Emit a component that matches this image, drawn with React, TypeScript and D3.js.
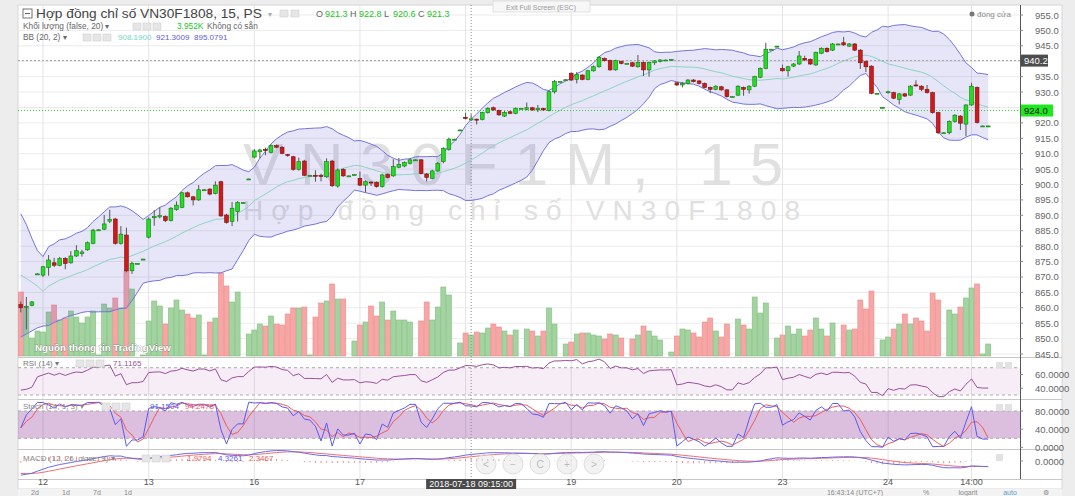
import React from "react";
import * as d3 from "d3";

// ---------- DATA ----------
const dayLabels = ["12", "13", "16", "17", "18", "19", "20", "23", "24", "14:00"];
const dayLabelIndex = [4, 23, 42, 61, 80, 99, 118, 137, 156, 171];
const priceTicks = [955, 950, 945, 940, 935, 930, 925, 920, 915, 910, 905, 900, 895, 890, 885, 880, 875, 870, 865, 860, 855, 850, 845];

const barOpen = [
  861.0, 860.3, 860.8, 871.0,
  870.6, 873.1, 874.6, 873.7, 876.0, 874.6, 876.8, 877.6, 878.8, 880.9, 885.2, 885.5, 888.1, 888.8, 880.9, 883.6, 872.0, 874.4, 875.8,
  882.9, 889.2, 889.5, 889.6, 888.3, 891.9, 892.6, 897.3, 896.0, 895.0, 898.3, 898.5, 897.1, 900.9, 890.1, 888.0, 891.2, 894.1, 901.8,
  908.9, 910.6, 911.4, 910.4, 912.6, 912.1, 909.7, 909.0, 904.9, 907.6, 903.0, 903.0, 902.9, 902.5, 907.6, 899.5, 904.9, 902.8, 903.2,
  902.0, 899.8, 900.8, 900.7, 899.3, 903.3, 902.8, 905.6, 906.0, 906.9, 908.0, 908.0, 903.4, 902.0, 904.4, 907.4, 911.4, 914.7, 917.7,
  921.8, 921.3, 921.2, 921.1, 923.3, 924.9, 924.0, 922.2, 923.6, 923.1, 924.7, 924.4, 924.9, 924.2, 924.6, 924.0, 930.1, 933.4, 934.0,
  936.1, 934.1, 935.5, 934.1, 936.9, 938.2, 940.9, 940.2, 937.2, 939.9, 939.3, 939.5, 938.2, 939.6, 937.2, 939.5, 939.9, 940.4, 940.6,
  933.0, 932.3, 932.8, 933.9, 933.6, 932.8, 931.5, 930.9, 931.7, 930.7, 928.5, 929.0, 931.5, 930.7, 931.9, 934.8, 937.7, 943.9, 944.9,
  937.7, 936.9, 938.4, 939.1, 940.9, 940.6, 938.8, 942.6, 944.2, 943.6, 945.6, 946.0, 944.9, 945.6, 943.6, 939.9, 938.4, 929.6, 925.0,
  929.8, 929.8, 927.6, 929.4, 929.0, 932.3, 931.9, 930.9, 929.8, 923.3, 916.8, 916.8, 920.4, 922.2, 919.6, 925.8, 931.5, 919.0, 919.0,
];
const barHigh = [
  862.0, 863.5, 862.2, 871.2,
  873.6, 877.1, 876.2, 876.5, 876.4, 878.4, 880.3, 878.8, 881.5, 885.6, 885.5, 890.1, 891.8, 889.2, 886.5, 886.0, 875.0, 874.5, 875.9,
  889.3, 891.7, 892.6, 890.0, 892.7, 894.5, 897.6, 897.7, 896.3, 899.8, 898.4, 898.8, 901.0, 901.2, 890.5, 894.3, 894.6, 894.2, 901.9,
  911.5, 911.6, 912.0, 913.0, 913.0, 912.5, 909.9, 909.3, 908.7, 908.0, 903.1, 904.6, 903.5, 908.5, 908.0, 905.2, 905.3, 902.9, 903.3,
  904.2, 901.3, 901.0, 901.0, 903.5, 903.6, 908.2, 908.6, 907.5, 908.5, 908.1, 908.3, 903.7, 904.8, 907.3, 912.1, 915.2, 914.8, 917.8,
  923.3, 922.8, 921.4, 923.6, 925.1, 925.3, 924.3, 923.8, 923.9, 925.0, 924.8, 926.6, 925.2, 925.8, 924.9, 930.5, 933.9, 933.5, 934.1,
  936.4, 936.5, 935.8, 937.2, 938.6, 941.7, 941.2, 940.5, 940.5, 940.2, 939.4, 939.8, 942.0, 939.9, 939.9, 940.4, 940.7, 940.5, 940.7,
  933.3, 933.2, 934.2, 934.2, 933.9, 933.1, 931.8, 932.2, 932.0, 931.0, 928.6, 932.2, 931.8, 932.2, 935.3, 938.0, 946.0, 944.0, 945.0,
  938.9, 938.5, 939.4, 943.3, 941.8, 940.9, 943.1, 944.5, 944.5, 945.9, 945.7, 947.9, 945.9, 945.9, 943.9, 940.2, 938.7, 929.7, 925.1,
  930.4, 930.1, 929.7, 929.7, 932.2, 933.8, 932.2, 932.3, 930.1, 923.6, 916.9, 920.8, 922.8, 922.5, 926.1, 933.0, 931.8, 919.1, 919.1,
];
const barLow = [
  858.5, 853.0, 860.5, 870.8,
  870.0, 870.4, 873.2, 873.5, 872.5, 874.3, 876.5, 876.6, 878.5, 880.6, 885.1, 885.2, 887.5, 880.5, 880.5, 871.5, 871.0, 874.3, 875.7,
  882.5, 886.6, 889.0, 887.8, 888.0, 891.5, 892.3, 895.8, 893.2, 894.7, 898.2, 896.5, 896.8, 889.5, 887.3, 886.5, 888.0, 894.0, 901.7,
  908.5, 908.5, 909.5, 910.1, 911.8, 909.8, 909.0, 904.5, 904.5, 902.7, 902.9, 900.9, 901.0, 902.2, 899.2, 899.0, 902.5, 902.7, 903.1,
  899.5, 897.4, 899.5, 899.0, 899.0, 902.0, 902.5, 905.3, 905.6, 906.5, 907.9, 903.3, 901.0, 901.7, 904.1, 906.9, 911.0, 914.6, 917.6,
  921.1, 920.6, 919.5, 920.8, 923.0, 923.9, 922.3, 921.9, 922.8, 922.8, 924.6, 924.1, 923.9, 923.5, 923.9, 923.7, 929.5, 933.3, 933.9,
  933.6, 932.8, 933.8, 933.8, 936.6, 937.9, 939.9, 936.9, 936.9, 939.0, 939.2, 938.1, 937.9, 935.2, 935.0, 938.8, 939.6, 940.3, 940.5,
  932.0, 931.5, 932.5, 933.1, 932.5, 931.2, 929.6, 930.6, 930.4, 928.2, 928.4, 928.7, 928.8, 929.5, 931.6, 934.5, 937.4, 943.8, 944.8,
  936.6, 935.0, 938.1, 938.8, 940.1, 938.8, 938.5, 942.3, 942.8, 943.3, 945.5, 945.0, 944.6, 943.3, 937.5, 936.5, 929.3, 929.5, 924.9,
  929.5, 927.7, 926.0, 928.4, 928.7, 931.8, 930.3, 929.5, 923.0, 916.3, 916.7, 916.3, 920.1, 917.7, 915.7, 925.5, 919.8, 918.9, 918.9,
];
const barClose = [
  860.0, 860.5, 861.9, 871.0,
  873.3, 875.5, 873.8, 876.0, 874.4, 876.8, 878.5, 878.1, 881.1, 885.2, 885.3, 887.2, 888.7, 880.9, 883.9, 872.0, 874.4, 874.4, 875.8,
  888.8, 889.6, 889.9, 888.3, 892.3, 893.3, 897.3, 896.0, 895.0, 898.3, 898.3, 896.9, 899.8, 889.8, 887.7, 892.3, 894.1, 894.1, 901.8,
  910.9, 911.2, 911.0, 912.6, 912.1, 910.1, 909.4, 904.9, 907.4, 903.0, 903.0, 902.8, 902.6, 907.4, 899.6, 904.7, 902.8, 902.8, 903.2,
  899.8, 900.9, 900.5, 899.3, 903.1, 902.3, 905.8, 906.5, 907.1, 908.0, 908.0, 903.6, 902.3, 904.4, 906.9, 911.7, 914.7, 914.7, 917.7,
  921.4, 921.3, 920.9, 923.3, 924.7, 924.2, 922.6, 923.4, 923.1, 924.7, 924.7, 924.9, 924.2, 924.6, 924.2, 930.1, 933.4, 933.4, 934.0,
  933.9, 935.7, 934.1, 936.9, 938.2, 941.3, 940.2, 937.2, 940.2, 939.3, 939.3, 938.4, 939.6, 937.2, 939.6, 940.1, 940.4, 940.4, 940.6,
  932.3, 932.8, 933.9, 933.4, 932.8, 931.5, 930.9, 931.9, 930.7, 928.5, 928.5, 931.9, 930.9, 931.9, 935.0, 937.7, 943.9, 943.9, 944.9,
  936.9, 938.2, 939.1, 941.7, 940.4, 939.1, 942.8, 944.2, 943.1, 945.6, 945.6, 945.3, 945.6, 943.6, 939.5, 938.2, 929.6, 929.6, 925.0,
  930.1, 928.0, 929.4, 928.7, 931.9, 932.1, 930.9, 929.8, 923.3, 916.8, 916.8, 920.4, 922.5, 919.9, 925.8, 931.9, 920.1, 919.0, 919.0,
];
const barVolume = [
  64, 48, 18, 25,
  24, 44, 51, 36, 38, 45, 39, 33, 39, 45, 1, 52, 48, 58, 48, 85, 67, 0, 1,
  35, 55, 50, 32, 48, 56, 46, 42, 38, 41, 1, 34, 38, 83, 70, 54, 64, 0, 22,
  26, 32, 30, 40, 32, 31, 42, 48, 48, 49, 1, 39, 53, 55, 72, 57, 57, 0, 15,
  31, 34, 50, 40, 54, 36, 45, 36, 36, 34, 0, 35, 54, 36, 49, 69, 61, 0, 13,
  23, 21, 24, 23, 28, 32, 29, 25, 21, 26, 0, 27, 25, 20, 25, 48, 32, 0, 12,
  14, 22, 23, 23, 21, 20, 17, 22, 21, 18, 0, 17, 21, 30, 25, 20, 16, 0, 4,
  20, 27, 26, 23, 19, 34, 38, 25, 19, 32, 0, 37, 31, 27, 59, 43, 53, 0, 18,
  21, 30, 22, 27, 20, 26, 38, 27, 20, 33, 0, 31, 26, 27, 56, 47, 65, 0, 16,
  19, 27, 32, 42, 32, 38, 35, 25, 63, 56, 0, 46, 42, 49, 58, 68, 72, 2, 12,
];
// Bollinger values read at the left edge (before 20 bars of history exist)
const bbHeadUpper = [890.5, 887.0, 882.5, 878.5];
const bbHeadMid = [870.6, 869.5, 868.3, 867.0];
const bbHeadLower = [850.5, 851.5, 852.5, 853.5];
// indicator starting states read from the left edge of the lower panes
const rsiSeed = { gain: 0.8, loss: 1.35 };
const macdSeed = { fast: 862.0, slow: 872.0, signal: -8.0 };

const crosshairIndex = 81;
const crosshairText = "2018-07-18 09:15:00";
const lastPrice = 924.0;
const prevClose = 940.2;
const ohlcLabels = ["O", "H", "L", "C"];
const ohlcValues = ["921.3", "922.8", "920.6", "921.3"];
const bbLegendValues = ["908.1900", "921.3009", "895.0791"];

const FONT = "'Liberation Sans', Arial, sans-serif";
const UP = "#22dd22";
const UP_DARK = "#137a13";
const DN = "#d01a1a";
const DN_DARK = "#7a1010";

export default function App() {
  const n = barClose.length;
  const L = 18, R = 1020;
  const x = d3.scaleLinear().domain([0, n - 1]).range([20.8, 988.2]);
  const y = d3.scaleLinear().domain([845, 955]).range([354, 15]);
  const yVol = d3.scaleLinear().domain([0, 100]).range([356, 256]);
  const yRsi = d3.scaleLinear().domain([30, 70]).range([395, 367.7]);
  const ySto = d3.scaleLinear().domain([20, 80]).range([438.3, 411]);
  const yMacd = d3.scaleLinear().domain([-10, 10]).range([476, 446]);

  // Bollinger (20, 2)
  const bb = barClose.map((_, i) => {
    if (i < bbHeadMid.length) return { mid: bbHeadMid[i], up: bbHeadUpper[i], lo: bbHeadLower[i] };
    const w = barClose.slice(Math.max(0, i - 19), i + 1);
    const m = d3.mean(w) as number;
    const sd = Math.sqrt(d3.mean(w, (v) => (v - m) * (v - m)) as number);
    return { mid: m, up: m + 2 * sd, lo: m - 2 * sd };
  });

  // RSI 14
  let ag = rsiSeed.gain, al = rsiSeed.loss;
  const rsi = barClose.map((c, i) => {
    if (i > 0) {
      const ch = c - barClose[i - 1];
      ag = (ag * 13 + Math.max(ch, 0)) / 14;
      al = (al * 13 + Math.max(-ch, 0)) / 14;
    }
    return 100 - 100 / (1 + ag / al);
  });

  // Stoch 14,1,3
  const kLine = barClose.map((c, i) => {
    const lo = d3.min(barLow.slice(Math.max(0, i - 13), i + 1)) as number;
    const hi = d3.max(barHigh.slice(Math.max(0, i - 13), i + 1)) as number;
    return hi === lo ? 50 : (100 * (c - lo)) / (hi - lo);
  });
  const dLine = kLine.map((_, i) => d3.mean(kLine.slice(Math.max(0, i - 2), i + 1)) as number);

  // MACD 12,26,9
  let e12 = macdSeed.fast, e26 = macdSeed.slow, sig = macdSeed.signal;
  const macd: number[] = [], signal: number[] = [];
  barClose.forEach((c) => {
    e12 += (2 / 13) * (c - e12);
    e26 += (2 / 27) * (c - e26);
    const m = e12 - e26;
    sig += (2 / 10) * (m - sig);
    macd.push(m);
    signal.push(sig);
  });

  const idx = d3.range(n);
  const lineOf = (arr: number[], sc: d3.ScaleLinear<number, number>) =>
    d3.line<number>().x((i) => x(i)).y((i) => sc(arr[i]))(idx) as string;
  const bandArea = d3.area<number>().x((i) => x(i)).y0((i) => y(bb[i].lo)).y1((i) => y(bb[i].up))(idx) as string;
  const bbUp = d3.line<number>().x((i) => x(i)).y((i) => y(bb[i].up))(idx) as string;
  const bbLo = d3.line<number>().x((i) => x(i)).y((i) => y(bb[i].lo))(idx) as string;
  const bbMid = d3.line<number>().x((i) => x(i)).y((i) => y(bb[i].mid))(idx) as string;

  const bw = 3.8;
  const vw = 5.0;

  const smallBox = (bx: number, by: number, k: string) => (
    <rect key={k} x={bx} y={by} width={8} height={7} fill="#e6e6e6" stroke="#d0d0d0" strokeWidth={0.6} />
  );

  const rightLabel = (v: string, yy: number, k: string) => (
    <g key={k}>
      <line x1={R} x2={R + 3} y1={yy} y2={yy} stroke="#888" />
      <text x={R + 15} y={yy + 3.5} fontSize={9.5} fill="#666" fontFamily={FONT}>{v}</text>
    </g>
  );
  const hiddenPrice = (p: number) => Math.abs(y(p) - y(prevClose)) < 7 || Math.abs(y(p) - y(lastPrice)) < 7;
  const crossX = x(crosshairIndex);

  return (
    <svg width={1075} height={496} style={{ position: "absolute", left: 0, top: 0, background: "#f0f0f0" }} fontFamily={FONT}>
      {/* backgrounds */}
      <rect x={0} y={0} width={1075} height={496} fill="#ededed" />
      <rect x={L} y={5} width={1062 - L} height={484} fill="#ffffff" />
      <rect x={L} y={5} width={1062 - L} height={484} fill="none" stroke="#d6d6d6" />

      {/* horizontal grid of main pane */}
      {priceTicks.map((p) => (
        <line key={"g" + p} x1={L} x2={R} y1={y(p)} y2={y(p)} stroke="#ececec" />
      ))}
      {/* vertical grid (day separators) */}
      {dayLabelIndex.map((di, k) => (
        <line key={"v" + k} x1={x(di)} x2={x(di)} y1={5} y2={479} stroke="#e4e4e4" />
      ))}

      {/* watermark */}
      <text x={243} y={185} fontSize={60} fill="#e0e0e0" textLength={540} lengthAdjust="spacing">VN30F1M, 15</text>
      <text x={243} y={220} fontSize={28} fill="#e0e0e0" textLength={557} lengthAdjust="spacing">Hợp đồng chỉ số VN30F1808</text>

      {/* volume */}
      {idx.map((i) => {
        const up = barClose[i] >= barOpen[i];
        if (barVolume[i] <= 0) return null;
        return (
          <rect key={"vol" + i} x={x(i) - vw / 2} y={yVol(barVolume[i])} width={vw} height={yVol(0) - yVol(barVolume[i])}
            fill={up ? "#a3d3a0" : "#f7a6a6"} stroke={up ? "#7fbf7c" : "#ee8a8a"} strokeWidth={0.6} />
        );
      })}

      {/* Bollinger bands */}
      <path d={bandArea} fill="rgba(90,90,210,0.15)" />
      <path d={bbMid} fill="none" stroke="#8fd3c3" strokeWidth={1} />
      <path d={bbUp} fill="none" stroke="#7474e0" strokeWidth={1} />
      <path d={bbLo} fill="none" stroke="#7474e0" strokeWidth={1} />

      {/* price lines */}
      <line x1={L} x2={R} y1={y(prevClose)} y2={y(prevClose)} stroke="#a0a0a0" strokeDasharray="2,2" />
      <line x1={L} x2={R} y1={y(lastPrice)} y2={y(lastPrice)} stroke="#33cc33" strokeDasharray="1,2" />

      {/* candles */}
      {idx.map((i) => {
        const up = barClose[i] >= barOpen[i];
        const top = y(Math.max(barOpen[i], barClose[i]));
        const bot = y(Math.min(barOpen[i], barClose[i]));
        const h = Math.max(1, bot - top);
        return (
          <g key={"c" + i}>
            <line x1={x(i)} x2={x(i)} y1={y(barHigh[i])} y2={y(barLow[i])} stroke="#555" strokeWidth={1} />
            <rect x={x(i) - bw / 2} y={top} width={bw} height={h} fill={up ? UP : DN} stroke={up ? UP_DARK : DN_DARK} strokeWidth={0.6} />
          </g>
        );
      })}

      <text x={35} y={351} fontSize={9.8} fontWeight="bold" fill="#ffffff" stroke="#5a5a5a" strokeWidth={0.45} paintOrder="stroke">Nguồn thông tin TradingView</text>

      {/* pane separators */}
      <line x1={L} x2={1062} y1={357.5} y2={357.5} stroke="#c8c8c8" />
      <line x1={L} x2={1062} y1={399.5} y2={399.5} stroke="#c8c8c8" />
      <line x1={L} x2={1062} y1={449.5} y2={449.5} stroke="#c8c8c8" />
      <line x1={L} x2={1062} y1={479.5} y2={479.5} stroke="#c8c8c8" />

      {/* RSI pane */}
      <rect x={L} y={yRsi(70)} width={R - L} height={yRsi(30) - yRsi(70)} fill="rgba(150,60,160,0.09)" />
      <line x1={L} x2={R} y1={yRsi(70)} y2={yRsi(70)} stroke="#aaa" strokeDasharray="3,3" />
      <line x1={L} x2={R} y1={yRsi(30)} y2={yRsi(30)} stroke="#aaa" strokeDasharray="3,3" />
      <path d={lineOf(rsi, yRsi)} fill="none" stroke="#9b4f9b" strokeWidth={1} />

      {/* Stoch pane */}
      <rect x={L} y={ySto(80)} width={R - L} height={ySto(20) - ySto(80)} fill="rgba(140,40,150,0.3)" />
      <line x1={L} x2={R} y1={ySto(80)} y2={ySto(80)} stroke="#aaa" strokeDasharray="3,3" />
      <line x1={L} x2={R} y1={ySto(20)} y2={ySto(20)} stroke="#aaa" strokeDasharray="3,3" />
      <path d={lineOf(dLine, ySto)} fill="none" stroke="#f05a5a" strokeWidth={1} />
      <path d={lineOf(kLine, ySto)} fill="none" stroke="#5a5af0" strokeWidth={1} />

      {/* MACD pane */}
      {idx.map((i) => {
        const hv = macd[i] - signal[i];
        return <line key={"h" + i} x1={x(i)} x2={x(i)} y1={yMacd(0)} y2={yMacd(hv)} stroke="#e88" strokeWidth={1} />;
      })}
      <path d={lineOf(signal, yMacd)} fill="none" stroke="#f07070" strokeWidth={1} />
      <path d={lineOf(macd, yMacd)} fill="none" stroke="#6a6af0" strokeWidth={1} />

      {/* crosshair */}
      <line x1={crossX} x2={crossX} y1={5} y2={479} stroke="#888" strokeDasharray="1,2" />

      {/* navigation buttons */}
      {["<", "−", "C", "+", ">"].map((s, k) => (
        <g key={"nb" + k}>
          <circle cx={486 + k * 27} cy={464} r={10} fill="rgba(230,230,230,0.5)" stroke="#ddd" />
          <text x={486 + k * 27} y={467.5} fontSize={10} fill="#bbb" textAnchor="middle">{s}</text>
        </g>
      ))}

      {/* right axis */}
      <line x1={R + 0.5} x2={R + 0.5} y1={5} y2={479} stroke="#555" />
      {priceTicks.filter((p) => !hiddenPrice(p)).map((p) => rightLabel(p.toFixed(1), y(p), "pt" + p))}
      <rect x={R + 1} y={y(prevClose) - 6} width={27} height={12} fill="#4d4d4d" />
      <text x={R + 4} y={y(prevClose) + 3.5} fontSize={9.5} fill="#fff">{prevClose.toFixed(1)}</text>
      <rect x={R + 1} y={y(lastPrice) - 6} width={32} height={12} fill="#1fe81f" />
      <text x={R + 4} y={y(lastPrice) + 3.5} fontSize={9.5} fill="#111">{lastPrice.toFixed(1)}</text>
      {rightLabel("60.0000", yRsi(60), "r60")}
      {rightLabel("40.0000", yRsi(40), "r40")}
      {rightLabel("80.0000", ySto(80), "s80")}
      {rightLabel("40.0000", ySto(40), "s40")}
      {rightLabel("0.0000", ySto(0), "s0")}
      {rightLabel("0.0000", yMacd(0), "m0")}
      {[362, 404, 454].map((yy, k) => (
        <g key={"pi" + k}>
          <rect x={996} y={yy} width={7} height={7} fill="#e2e2e2" />
          {k < 2 ? <rect x={1005} y={yy} width={7} height={7} fill="#e2e2e2" /> : null}
        </g>
      ))}

      {/* time axis */}
      {dayLabels.map((t, k) =>
        Math.abs(x(dayLabelIndex[k]) - crossX) < 50 ? null : (
          <text key={"t" + k} x={x(dayLabelIndex[k])} y={485} fontSize={9} fill="#555" textAnchor="middle">{t}</text>
        )
      )}
      <rect x={crossX - 45} y={479} width={90} height={10} fill="#4a4a4a" />
      <text x={crossX} y={487} fontSize={9} fill="#fff" textAnchor="middle">{crosshairText}</text>

      {/* bottom toolbar */}
      <rect x={L} y={489} width={1062 - L} height={7} fill="#f3f3f3" />
      {["2d", "1d", "7d", "1d"].map((s, k) => (
        <text key={"tb" + k} x={35 + k * 31} y={494.5} fontSize={7} fill="#888" textAnchor="middle">{s}</text>
      ))}
      <text x={855} y={494.5} fontSize={7} fill="#888" textAnchor="middle">16:43:14 (UTC+7)</text>
      <text x={926} y={494.5} fontSize={7} fill="#888" textAnchor="middle">%</text>
      <text x={968} y={494.5} fontSize={7} fill="#888" textAnchor="middle">logarit</text>
      <text x={1010} y={494.5} fontSize={7} fill="#5b9bd5" textAnchor="middle">auto</text>
      <text x={1046} y={494.5} fontSize={7} fill="#888" textAnchor="middle">⚙</text>

      {/* top bar */}
      <rect x={493} y={1} width={97} height={11} fill="#f7f7f7" stroke="#d0d0d0" strokeWidth={0.6} />
      <text x={541} y={9.5} fontSize={7} fill="#999" textAnchor="middle">Exit Full Screen (ESC)</text>
      <circle cx={972} cy={14} r={2.5} fill="#777" />
      <text x={977} y={17} fontSize={8} fill="#888">đóng cửa</text>

      {/* legend header */}
      <rect x={23} y={9} width={9} height={9} fill="none" stroke="#666" strokeWidth={0.9} />
      <line x1={25} x2={30} y1={13.5} y2={13.5} stroke="#666" />
      <text x={36} y={18} fontSize={13.7} fill="#444">Hợp đồng chỉ số VN30F1808, 15, PS</text>
      <text x={268} y={17} fontSize={8} fill="#aaa">▾</text>
      {smallBox(280, 10, "hb1")}
      {smallBox(291, 10, "hb2")}
      {ohlcLabels.map((lab, k) => (
        <g key={"ohlc" + k}>
          <text x={316 + k * 34} y={17} fontSize={9} fill="#666">{lab}</text>
          <text x={325 + k * 34} y={17} fontSize={9} fill="#22c422">{ohlcValues[k]}</text>
        </g>
      ))}

      <text x={23} y={29} fontSize={8.3} fill="#666">Khối lượng (false, 20) ▾</text>
      {smallBox(133, 23, "vb1")}
      {smallBox(143, 23, "vb2")}
      {smallBox(153, 23, "vb3")}
      <text x={177} y={29} fontSize={8.3} fill="#22c422">3.952K</text>
      <text x={207} y={29} fontSize={8.3} fill="#666">Không có sẵn</text>

      <text x={23} y={40} fontSize={8.3} fill="#666">BB (20, 2) ▾</text>
      {smallBox(83, 34, "bb1")}
      {smallBox(93, 34, "bb2")}
      {smallBox(103, 34, "bb3")}
      {bbLegendValues.map((v, k) => (
        <text key={"bbv" + k} x={118 + k * 38} y={40} fontSize={8} fill={k === 0 ? "#6fd6c3" : "#5a5ae0"}>{v}</text>
      ))}

      <text x={23} y={366} fontSize={8} fill="#777">RSI (14) ▾</text>
      {smallBox(76, 360, "rb1")}
      {smallBox(86, 360, "rb2")}
      {smallBox(96, 360, "rb3")}
      <text x={113} y={366} fontSize={8} fill="#9b4f9b">71.1165</text>

      <text x={23} y={409} fontSize={8} fill="#888">Stoch (14, 1, 3) ▾</text>
      {smallBox(102, 403, "sb1")}
      {smallBox(112, 403, "sb2")}
      {smallBox(122, 403, "sb3")}
      <text x={150} y={409} fontSize={8} fill="#5a5af0">91.1504</text>
      <text x={185} y={409} fontSize={8} fill="#f05a5a">94.2478</text>

      <text x={23} y={461} fontSize={8} fill="#888">MACD (12, 26, close, 9) ▾</text>
      {smallBox(142, 455, "mb1")}
      {smallBox(152, 455, "mb2")}
      {smallBox(162, 455, "mb3")}
      <text x={187} y={461} fontSize={8} fill="#f05a5a">1.9794</text>
      <text x={218} y={461} fontSize={8} fill="#5a5af0">4.3261</text>
      <text x={249} y={461} fontSize={8} fill="#f05a5a">2.3467</text>
    </svg>
  );
}
